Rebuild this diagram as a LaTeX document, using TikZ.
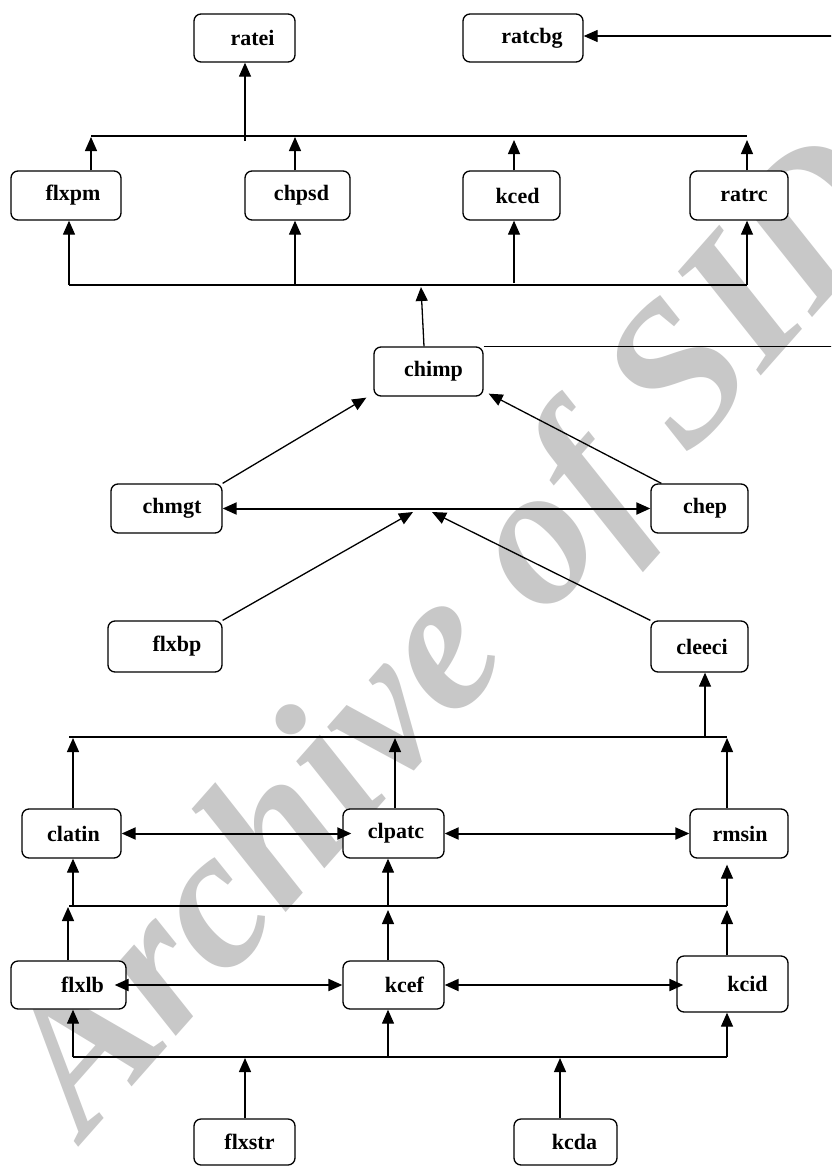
\documentclass[tikz,border=0pt]{standalone}
\usepackage{fontspec}
\setmainfont{Liberation Serif}
\usetikzlibrary{arrows.meta,calc}
\definecolor{wmgray}{RGB}{200,200,200}
\begin{document}
\begin{tikzpicture}[x=1pt,y=-1pt,
  box/.style={draw, line width=1.3pt, rounded corners=7pt, fill=white, inner sep=0pt,
    font=\bfseries\fontsize{22}{25}\selectfont},
  arr/.style={line width=1.3pt, -{Triangle[length=14pt,width=12pt]}},
  dbl/.style={line width=2pt, {Triangle[length=14pt,width=12pt]}-{Triangle[length=14pt,width=12pt]}},
  bus/.style={line width=1.8pt},
  wmark/.style={anchor=base west, inner sep=0pt, rotate=48.5, text=wmgray,
    font=\bfseries\itshape\fontsize{200}{200}\selectfont}]
\useasboundingbox (0,0) rectangle (831,1167);
\fill[white] (0,0) rectangle (831,1167);
\clip (0,0) rectangle (831,1167);

% watermark
\node[wmark] (wm) at (85,1140) {Archive of SID};

% boxes
\node[box, minimum width=101pt, minimum height=48pt] (ratei)  at (244.5,38)  {\hspace*{16pt}ratei};
\node[box, minimum width=120pt, minimum height=48pt] (ratcbg) at (523,38)    {\hspace*{18pt}ratcbg};
\node[box, minimum width=110pt, minimum height=49pt] (flxpm)  at (66,195.5)  {\hspace*{14pt}flxpm};
\node[box, minimum width=105pt, minimum height=49pt] (chpsd)  at (297.5,195.5) {\hspace*{8pt}chpsd};
\node[box, minimum width=97pt,  minimum height=49pt] (kced)   at (511.5,195.5) {\hspace*{12pt}kced};
\node[box, minimum width=98pt,  minimum height=49pt] (ratrc)  at (739,195.5)  {\hspace*{10pt}ratrc};
\node[box, minimum width=109pt, minimum height=49pt] (chimp)  at (428.5,371.5) {\hspace*{10pt}chimp};
\node[box, minimum width=111pt, minimum height=49pt] (chmgt)  at (166.5,508.5) {\hspace*{11pt}chmgt};
\node[box, minimum width=97pt,  minimum height=49pt] (chep)   at (699.5,508.5) {\hspace*{11pt}chep};
\node[box, minimum width=114pt, minimum height=51pt] (flxbp)  at (165,646.5)  {\hspace*{24pt}flxbp};
\node[box, minimum width=97pt,  minimum height=51pt] (cleeci) at (699.5,646.5) {\hspace*{5pt}cleeci};
\node[box, minimum width=99pt,  minimum height=49pt] (clatin) at (71.5,833.5) {\hspace*{4pt}clatin};
\node[box, minimum width=101pt, minimum height=49pt] (clpatc) at (393.5,833.5) {\hspace*{5pt}clpatc};
\node[box, minimum width=98pt,  minimum height=49pt] (rmsin)  at (739,833.5)  {\hspace*{2pt}rmsin};
\node[box, minimum width=115pt, minimum height=48pt] (flxlb)  at (68.5,985)   {\hspace*{28pt}flxlb};
\node[box, minimum width=101pt, minimum height=48pt] (kcef)   at (393.5,985)  {\hspace*{22pt}kcef};
\node[box, minimum width=111pt, minimum height=56pt] (kcid)   at (732.5,984)  {\hspace*{30pt}kcid};
\node[box, minimum width=101pt, minimum height=46pt] (flxstr) at (244.5,1142) {\hspace*{10pt}flxstr};
\node[box, minimum width=103pt, minimum height=46pt] (kcda)   at (565.5,1142) {\hspace*{18pt}kcda};

% top bus
\coordinate (aL) at (91,136);
\coordinate (aR) at (747,136);
\draw[bus] (aL) -- (aR);
\coordinate (rA) at (245,141);
\draw[arr] (rA) -- (rA |- ratei.south);
\coordinate (a1) at (91,137);
\coordinate (a2) at (295,137);
\coordinate (a3) at (514,140);
\coordinate (a4) at (747,140);
\draw[arr] (a1 |- flxpm.north) -- (a1);
\draw[arr] (a2 |- chpsd.north) -- (a2);
\draw[arr] (a3 |- kced.north) -- (a3);
\draw[arr] (a4 |- ratrc.north) -- (a4);

% second bus
\coordinate (bL) at (69,285);
\coordinate (bR) at (747,285);
\draw[bus] (bL) -- (bR);
\coordinate (b2) at (295,285);
\coordinate (b3) at (514,283);
\draw[arr] (bL) -- (bL |- flxpm.south);
\draw[arr] (b2) -- (b2 |- chpsd.south);
\draw[arr] (b3) -- (b3 |- kced.south);
\draw[arr] (bR) -- (bR |- ratrc.south);
\coordinate (bC) at (421,287);
\draw[arr] ([xshift=-4.5pt]chimp.north) -- (bC);

% chimp to ratcbg round the right edge
\coordinate (edge) at (845,36);
\draw[arr] (chimp.north east) -| (edge) -- (ratcbg.east |- edge);

% middle
\draw[arr] (chmgt.north east) -- ([xshift=-7pt,yshift=-1pt]chimp.south west);
\draw[arr] ([xshift=11pt]chep.north west) -- ([xshift=5pt,yshift=3pt]chimp.south east);
\draw[dbl] (chmgt.east) -- (chep.west);
\coordinate (m1) at (413,512);
\coordinate (m2) at (432,512);
\draw[arr] (flxbp.north east) -- (m1);
\draw[arr] (cleeci.north west) -- (m2);

% bus C
\coordinate (cL) at (69,737);
\coordinate (cR) at (727,737);
\draw[bus] (cL) -- (cR);
\coordinate (cU) at (705,737);
\draw[arr] (cU) -- (cU |- cleeci.south);
\coordinate (c1) at (73,738);
\coordinate (c2) at (395,738);
\coordinate (c3) at (727,738);
\draw[arr] (c1 |- clatin.north) -- (c1);
\draw[arr] (c2 |- clpatc.north) -- (c2);
\draw[arr] (c3 |- rmsin.north) -- (c3);
\draw[dbl] (clatin.east) -- ([xshift=9pt]clpatc.west);
\draw[dbl] (clpatc.east) -- (rmsin.west);

% bus D
\coordinate (dL) at (69,906);
\coordinate (dR) at (727,906);
\draw[bus] (dL) -- (dR);
\coordinate (d1) at (73,906);
\coordinate (d2) at (388,906);
\draw[arr] (d1) -- (d1 |- clatin.south);
\draw[arr] (d2) -- (d2 |- clpatc.south);
\draw[arr] (dR) -- ($(dR |- rmsin.south)+(0,6)$);
\coordinate (e1) at (68,907);
\coordinate (e2) at (388,910);
\coordinate (e3) at (727,910);
\draw[arr] (e1 |- flxlb.north) -- (e1);
\draw[arr] (e2 |- kcef.north) -- (e2);
\draw[arr] (e3 |- kcid.north) -- (e3);
\draw[dbl] ([xshift=-12pt]flxlb.east) -- (kcef.west);
\draw[dbl] (kcef.east) -- ($(kcid.west |- kcef.east)+(7,0)$);

% bus E
\coordinate (fL) at (73,1057);
\coordinate (fR) at (727,1057);
\draw[bus] (fL) -- (fR);
\coordinate (f2) at (388,1057);
\draw[arr] (fL) -- (fL |- flxlb.south);
\draw[arr] (f2) -- (f2 |- kcef.south);
\draw[arr] (fR) -- (fR |- kcid.south);
\coordinate (g1) at (245,1058);
\coordinate (g2) at (560,1058);
\draw[arr] (g1 |- flxstr.north) -- (g1);
\draw[arr] (g2 |- kcda.north) -- (g2);
\end{tikzpicture}
\end{document}
